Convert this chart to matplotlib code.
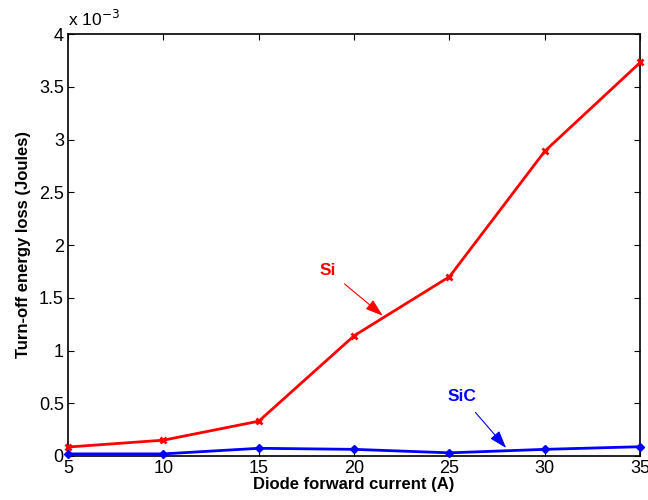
import matplotlib
matplotlib.use('Agg')
import matplotlib.pyplot as plt
from matplotlib.ticker import FuncFormatter
import numpy as np

plt.rcParams['font.family'] = ['Liberation Sans', 'DejaVu Sans']

# datos
corriente = [5, 10, 15, 20, 25, 30, 35]
si_loss = np.array([0.085, 0.15, 0.33, 1.14, 1.70, 2.89, 3.73]) * 1e-3
sic_loss = np.array([0.02, 0.02, 0.073, 0.063, 0.03, 0.063, 0.088]) * 1e-3
escala = 1e-3

fig = plt.figure(figsize=(6.48, 5), dpi=100)
ax = fig.add_axes([0.105, 0.088, 0.883, 0.844])

ax.plot(corriente, si_loss, color='red', linewidth=2, marker='x', markersize=4,
        markeredgewidth=2, clip_on=False, zorder=3)
ax.plot(corriente, sic_loss, color='blue', linewidth=2, marker='D', markersize=4.5,
        clip_on=False, zorder=3)

ax.set_xlim(5, 35)
ax.set_ylim(0, 4e-3)
ax.set_xticks(corriente)
ax.set_yticks(np.arange(0, 4.01, 0.5) * escala)
ax.yaxis.set_major_formatter(FuncFormatter(lambda v, p: '%g' % round(v / escala, 3)))
ax.tick_params(direction='in', length=4, width=0.8, labelsize=13, top=True, right=True, pad=3)
for s in ax.spines.values():
    s.set_linewidth(1.2)

ax.text(0.0, 1.012, r'x 10$^{-3}$', transform=ax.transAxes, fontsize=12.5,
        ha='left', va='bottom')

ax.set_xlabel('Diode forward current (A)', fontsize=12, fontweight='bold', labelpad=0)
ax.set_ylabel('Turn-off energy loss (Joules)', fontsize=12, fontweight='bold', labelpad=6)

# anotaciones
ax.annotate('Si', xy=(21.5, 1.33e-3), xytext=(18.64, 1.76e-3), color='red',
            fontsize=12.5, fontweight='bold', ha='center', va='center',
            arrowprops=dict(arrowstyle='-|>,head_length=0.6,head_width=0.2', color='red', lw=0.8,
                            mutation_scale=18, shrinkA=5, shrinkB=0))
ax.annotate('SiC', xy=(27.97, 0.076e-3), xytext=(25.66, 0.56e-3), color='blue',
            fontsize=12.5, fontweight='bold', ha='center', va='center',
            arrowprops=dict(arrowstyle='-|>,head_length=0.6,head_width=0.2', color='blue', lw=0.8,
                            mutation_scale=18, shrinkA=5, shrinkB=0))

plt.savefig('out.png', dpi=100)
